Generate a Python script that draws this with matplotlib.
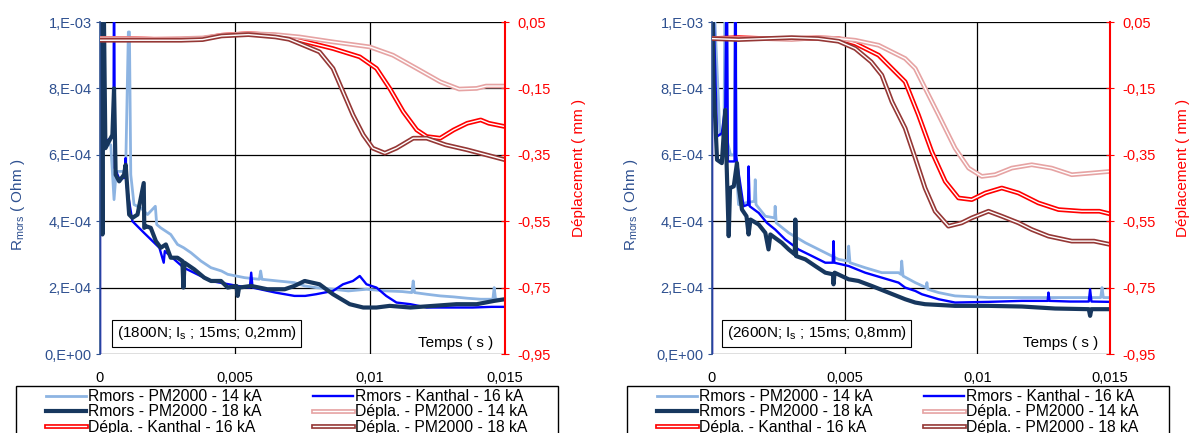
import numpy as np
import matplotlib.pyplot as plt
import matplotlib.patheffects as pe
from matplotlib.patches import Rectangle
from matplotlib.ticker import FixedLocator

plt.rcParams['font.family'] = ['Liberation Sans', 'DejaVu Sans']
plt.rcParams['mathtext.fontset'] = 'custom'
plt.rcParams['mathtext.rm'] = 'Liberation Sans'

# time in ms, resistance in 1e-4 Ohm, displacement in mm

# ---- panel 1 : (1800N; Is; 15ms; 0,2mm) ----
p1_t_pm14 = [0.0, 0.1, 0.4, 0.52, 0.6, 0.95, 1.05, 1.09, 1.14, 1.26, 1.51, 1.76, 2.05, 2.1, 2.25, 2.62, 2.87, 3.1,
             3.37, 3.74, 4.11, 4.5, 4.73, 5.35, 5.9, 5.95, 6.0, 6.58, 7.2, 7.58, 8.0, 8.63, 9.2, 9.87, 10.6, 11.2,
             11.55, 11.6, 11.65, 12.1, 12.6, 13.1, 13.6, 14.1, 14.55, 14.6, 14.65, 15.0]
p1_r_pm14 = [12, 6.3, 6.3, 4.65, 5.5, 5.5, 9.7, 9.7, 5.4, 4.5, 4.4, 4.2, 4.45, 3.9, 3.8, 3.6, 3.3, 3.2,
             3.05, 2.8, 2.6, 2.5, 2.4, 2.3, 2.25, 2.5, 2.25, 2.2, 2.15, 2.05, 2.0, 1.95, 1.9, 1.95, 1.9, 1.88,
             1.85, 2.2, 1.85, 1.8, 1.75, 1.72, 1.68, 1.65, 1.65, 2.0, 1.65, 1.65]

p1_t_pm18 = [0.05, 0.09, 0.12, 0.2, 0.33, 0.46, 0.52, 0.58, 0.71, 0.89, 0.95, 1.01, 1.08, 1.2, 1.39, 1.62, 1.64,
             1.7, 1.88, 2.07, 2.25, 2.44, 2.62, 2.87, 3.05, 3.09, 3.13, 3.49, 3.86, 4.11, 4.48, 4.73, 5.05, 5.1,
             5.15, 5.6, 6.2, 6.84, 7.2, 7.58, 8.13, 8.63, 9.25, 9.75, 10.24, 10.73, 11.5, 12.35, 13.2, 13.95,
             14.6, 15.0]
p1_r_pm18 = [12, 3.6, 12, 6.2, 6.4, 6.6, 8.0, 5.4, 5.2, 5.4, 5.7, 5.0, 4.2, 4.1, 4.2, 5.15, 3.8,
             3.85, 3.8, 3.4, 3.2, 3.3, 2.9, 2.9, 2.8, 2.0, 2.75, 2.55, 2.3, 2.2, 2.2, 2.0, 2.05, 1.75,
             2.0, 2.05, 1.95, 1.95, 2.05, 2.2, 2.1, 1.8, 1.5, 1.4, 1.4, 1.45, 1.4, 1.45, 1.5, 1.5,
             1.6, 1.65]

p1_t_k16 = [0.0, 0.0, 0.05, 0.2, 0.4, 0.5, 0.52, 0.55, 0.7, 0.9, 0.95, 1.0, 1.2, 1.63, 2.2, 2.36, 2.4, 3.1,
            4.1, 5.1, 5.55, 5.6, 5.65, 6.5, 7.2, 7.6, 8.0, 8.63, 9.0, 9.37, 9.62, 9.87, 10.24, 10.6, 10.98,
            11.5, 12.1, 13.0, 13.8, 14.5, 15.0]
p1_r_k16 = [0, 12, 6.4, 6.4, 6.5, 6.6, 12, 5.6, 5.3, 5.3, 5.9, 5.0, 4.0, 3.65, 3.2, 2.75, 3.1, 2.6,
            2.2, 2.05, 2.0, 2.45, 2.0, 1.85, 1.75, 1.75, 1.8, 1.9, 2.1, 2.2, 2.35, 2.1, 2.0, 1.75, 1.55,
            1.5, 1.4, 1.4, 1.4, 1.42, 1.42]

p1_td_pm14 = [0, 1, 2, 3, 3.8, 4.5, 5.5, 6.5, 7.39, 8.63, 9.99, 10.85, 11.73, 12.6, 13.3, 13.95, 14.3, 15.0]
p1_d_pm14 = [0.0, 0.0, -0.002, 0.0, 0.002, 0.01, 0.015, 0.012, 0.005, -0.01, -0.025, -0.05, -0.09, -0.13,
             -0.152, -0.15, -0.143, -0.143]

p1_td_k16 = [0, 1, 2, 3, 3.8, 4.5, 5.5, 6.5, 7.39, 8.63, 9.62, 10.24, 10.73, 11.23, 11.73, 12.1, 12.6, 13.1,
             13.6, 14.1, 14.4, 15.0]
p1_d_k16 = [0.0, 0.0, -0.002, -0.002, 0.0, 0.01, 0.015, 0.01, -0.005, -0.03, -0.055, -0.09, -0.15, -0.22,
            -0.275, -0.295, -0.3, -0.275, -0.255, -0.245, -0.255, -0.265]

p1_td_pm18 = [0, 1, 2, 3, 3.8, 4.5, 5.5, 6.5, 7.0, 7.39, 8.13, 8.63, 9.0, 9.37, 9.75, 10.1, 10.55, 10.98,
              11.6, 12.1, 12.8, 13.6, 14.3, 15.0]
p1_d_pm18 = [-0.005, -0.005, -0.005, -0.005, -0.003, 0.008, 0.012, 0.005, -0.002, -0.015, -0.04, -0.09, -0.16,
             -0.23, -0.29, -0.33, -0.345, -0.33, -0.3, -0.3, -0.32, -0.335, -0.35, -0.365]

# ---- panel 2 : (2600N; Is; 15ms; 0,8mm) ----
p2_t_pm14 = [0.0, 0.3, 0.45, 0.5, 0.55, 0.7, 0.85, 0.88, 0.92, 1.0, 1.25, 1.6, 1.63, 1.66, 2.01, 2.36, 2.38,
             2.42, 2.89, 3.52, 4.27, 4.77, 5.12, 5.15, 5.2, 5.77, 6.4, 7.03, 7.12, 7.15, 7.2, 7.66, 8.07, 8.1,
             8.13, 8.54, 9.16, 10.42, 11.68, 12.93, 14.2, 14.65, 14.7, 14.75, 15.0]
p2_r_pm14 = [12, 6.6, 6.6, 12, 6.5, 6.0, 6.0, 12, 5.5, 4.5, 4.55, 4.6, 5.25, 4.5, 4.15, 4.1, 4.45,
             3.95, 3.65, 3.35, 3.05, 2.85, 2.8, 3.25, 2.75, 2.6, 2.45, 2.45, 2.4, 2.8, 2.35, 2.15, 2.0, 2.15,
             1.95, 1.85, 1.75, 1.7, 1.7, 1.7, 1.7, 1.7, 2.0, 1.7, 1.7]

p2_t_k16 = [0.0, 0.0, 0.19, 0.37, 0.5, 0.56, 0.6, 0.85, 0.88, 0.91, 1.06, 1.19, 1.36, 1.38, 1.42, 1.76, 2.07,
            2.38, 2.76, 3.26, 3.77, 4.27, 4.55, 4.58, 4.61, 5.15, 5.77, 6.4, 7.03, 7.28, 7.66, 7.91, 8.54,
            9.16, 10.42, 11.68, 12.65, 12.68, 12.72, 13.5, 14.2, 14.25, 14.3, 15.0]
p2_r_k16 = [0, 12, 6.55, 6.65, 7.45, 12, 5.8, 5.8, 12, 5.95, 5.15, 4.45, 4.5, 5.65, 4.45, 4.25, 3.95,
            3.75, 3.45, 3.15, 2.95, 2.75, 2.75, 3.4, 2.75, 2.65, 2.45, 2.3, 2.15, 2.0, 1.9, 1.8, 1.65,
            1.55, 1.57, 1.6, 1.6, 1.85, 1.6, 1.58, 1.58, 1.95, 1.58, 1.57]

p2_t_pm18 = [0.0, 0.06, 0.19, 0.37, 0.5, 0.55, 0.63, 0.68, 0.82, 0.94, 1.0, 1.13, 1.3, 1.38, 1.45, 1.76, 2.01,
             2.13, 2.2, 2.63, 2.89, 3.12, 3.14, 3.17, 3.52, 3.89, 4.27, 4.56, 4.58, 4.62, 5.15, 5.52, 6.02,
             6.65, 7.28, 7.66, 8.03, 9.16, 10.42, 11.68, 12.93, 14.2, 14.25, 14.3, 15.0]
p2_r_pm18 = [12, 8.15, 5.85, 5.75, 7.35, 5.75, 3.55, 5.0, 5.05, 5.75, 5.1, 4.35, 4.15, 3.6, 4.05, 3.9, 3.65,
             3.15, 3.6, 3.35, 3.15, 3.0, 4.05, 2.95, 2.85, 2.65, 2.45, 2.4, 2.1, 2.45, 2.25, 2.2, 2.05,
             1.85, 1.65, 1.55, 1.5, 1.45, 1.45, 1.43, 1.37, 1.35, 1.15, 1.35, 1.35]

p2_td_pm14 = [0, 1, 2, 3, 4, 4.77, 5.4, 6.28, 7.03, 7.28, 7.66, 7.91, 8.54, 9.16, 9.67, 10.17, 10.67, 11.3,
              12.05, 12.8, 13.56, 14.3, 15.0]
p2_d_pm14 = [0.0, 0.0, 0.0, -0.003, 0.003, 0.0, -0.005, -0.02, -0.05, -0.06, -0.09, -0.13, -0.23, -0.33,
             -0.39, -0.415, -0.41, -0.39, -0.38, -0.39, -0.41, -0.405, -0.4]

p2_td_k16 = [0, 1, 2, 3, 4, 4.77, 5.4, 6.28, 7.03, 7.28, 7.78, 8.28, 8.79, 9.29, 9.79, 10.3, 10.92, 11.55,
             12.3, 13.06, 13.94, 14.6, 15.0]
p2_d_k16 = [0.0, 0.003, 0.0, 0.0, 0.002, 0.0, -0.015, -0.05, -0.11, -0.13, -0.23, -0.34, -0.43, -0.48,
            -0.485, -0.465, -0.45, -0.465, -0.495, -0.515, -0.52, -0.52, -0.528]

p2_td_pm18 = [0, 1, 2, 3, 4, 4.77, 5.4, 6.0, 6.4, 6.78, 7.28, 7.66, 8.03, 8.41, 8.91, 9.41, 9.79, 10.42,
              10.92, 11.55, 12.05, 12.68, 13.56, 14.4, 15.0]
p2_d_pm18 = [0.0, -0.003, 0.0, 0.003, 0.0, -0.008, -0.03, -0.07, -0.11, -0.19, -0.27, -0.36, -0.45, -0.52,
             -0.565, -0.555, -0.54, -0.52, -0.535, -0.555, -0.575, -0.595, -0.61, -0.61, -0.62]

x_ticks = [0, 0.005, 0.01, 0.015]
x_labels = ['0', '0,005', '0,01', '0,015']
r_ticks = [0, 2e-4, 4e-4, 6e-4, 8e-4, 1e-3]
r_labels = ['0,E+00', '2,E-04', '4,E-04', '6,E-04', '8,E-04', '1,E-03']
d_ticks = [-0.95, -0.75, -0.55, -0.35, -0.15, 0.05]
d_labels = ['-0,95', '-0,75', '-0,55', '-0,35', '-0,15', '0,05']

labels = ['Rmors - PM2000 - 14 kA', 'Rmors - PM2000 - 18 kA', 'Dépla. - Kanthal - 16 kA',
          'Rmors - Kanthal - 16 kA', 'Dépla. - PM2000 - 14 kA', 'Dépla. - PM2000 - 18 kA']
panel_notes = ['(1800N; I$_\\mathregular{s}$ ; 15ms; 0,2mm)', '(2600N; I$_\\mathregular{s}$ ; 15ms; 0,8mm)']

c_pm14 = '#8DB4E2'
c_k16 = '#0000FF'
c_pm18 = '#17375E'
c_d_pm14 = '#E6A3A3'
c_d_k16 = '#FF0000'
c_d_pm18 = '#953735'
c_left = '#2E5090'


def dline(ax, t, d, color):
    ln, = ax.plot(np.array(t) * 1e-3, d, color='white', lw=1.0, solid_joinstyle='round',
                  path_effects=[pe.Stroke(linewidth=3.4, foreground=color), pe.Normal()])
    return ln


def panel(rect, data, note):
    (t14, r14, t18, r18, tk, rk, td14, d14, tdk, dk, td18, d18) = data
    ax = fig.add_axes(rect)
    l1, = ax.plot(np.array(t14) * 1e-3, np.array(r14) * 1e-4, color=c_pm14, lw=2.0)
    l4, = ax.plot(np.array(tk) * 1e-3, np.array(rk) * 1e-4, color=c_k16, lw=1.7)
    l2, = ax.plot(np.array(t18) * 1e-3, np.array(r18) * 1e-4, color=c_pm18, lw=3.0)
    ax.set_xlim(0, 0.015)
    ax.set_ylim(0, 1e-3)
    ax.xaxis.set_major_locator(FixedLocator(x_ticks))
    ax.set_xticklabels(x_labels)
    ax.yaxis.set_major_locator(FixedLocator(r_ticks))
    ax.set_yticklabels(r_labels)
    ax.grid(True, color='black', lw=0.9)
    ax.set_axisbelow(True)
    for s in ['top', 'bottom', 'right']:
        ax.spines[s].set_visible(False)
    ax.spines['left'].set_color(c_left)
    ax.spines['left'].set_linewidth(1.2)
    ax.tick_params(axis='x', length=0, pad=12, labelsize=10.5, colors='black')
    ax.tick_params(axis='y', length=3, pad=3, labelsize=10.5, colors=c_left)
    ax.set_ylabel('R$_\\mathregular{mors}$ ( Ohm )', color=c_left, fontsize=11)
    ax.yaxis.set_label_coords(-0.18, 0.45)

    ax2 = ax.twinx()
    l3 = dline(ax2, tdk, dk, c_d_k16)
    l5 = dline(ax2, td14, d14, c_d_pm14)
    l6 = dline(ax2, td18, d18, c_d_pm18)
    ax2.set_ylim(-0.95, 0.05)
    ax2.set_xlim(0, 0.015)
    ax2.yaxis.set_major_locator(FixedLocator(d_ticks))
    ax2.set_yticklabels(d_labels)
    for s in ['top', 'bottom', 'left']:
        ax2.spines[s].set_visible(False)
    ax2.spines['right'].set_color('#FF0000')
    ax2.spines['right'].set_linewidth(1.5)
    ax2.tick_params(axis='y', direction='inout', length=6, pad=6, labelsize=10.5, colors='#FF0000')
    ax2.set_ylabel('Déplacement ( mm )', color='#FF0000', fontsize=11)
    ax2.yaxis.set_label_coords(1.165, 0.56)

    ax2.text(0.97, 0.033, 'Temps ( s )', transform=ax2.transAxes, ha='right', va='center', fontsize=11)
    ax2.text(0.263, 0.062, note, transform=ax2.transAxes, ha='center', va='center', fontsize=11,
             bbox=dict(boxstyle='square,pad=0.3', fc='white', ec='black', lw=0.8))
    return [l1, l2, l3, l4, l5, l6]


fig = plt.figure(figsize=(11.93, 4.33), dpi=100)
W, H = 1193, 433

h1 = panel([100 / W, 1 - 354 / H, 405 / W, 332 / H],
           (p1_t_pm14, p1_r_pm14, p1_t_pm18, p1_r_pm18, p1_t_k16, p1_r_k16,
            p1_td_pm14, p1_d_pm14, p1_td_k16, p1_d_k16, p1_td_pm18, p1_d_pm18), panel_notes[0])
h2 = panel([712 / W, 1 - 354 / H, 398 / W, 332 / H],
           (p2_t_pm14, p2_r_pm14, p2_t_pm18, p2_r_pm18, p2_t_k16, p2_r_k16,
            p2_td_pm14, p2_d_pm14, p2_td_k16, p2_d_k16, p2_td_pm18, p2_d_pm18), panel_notes[1])

# legends: box drawn separately, it runs off the bottom of the figure
for hs, x0 in [(h1, 16), (h2, 627)]:
    fig.patches.append(Rectangle((x0 / W, -0.1), 542 / W, 0.1 + 1 - 386 / H, transform=fig.transFigure,
                                 fc='white', ec='black', lw=1.0, zorder=0))
    fig.legend(hs, labels, loc='upper left', ncol=2, bbox_to_anchor=((x0 + 30) / W, 1 - 389 / H),
               borderaxespad=0, borderpad=0, fontsize=11.3, handlelength=2.55, handletextpad=0.12,
               labelspacing=0.03, columnspacing=3.3, frameon=False)

fig.savefig('out.png', dpi=100)
